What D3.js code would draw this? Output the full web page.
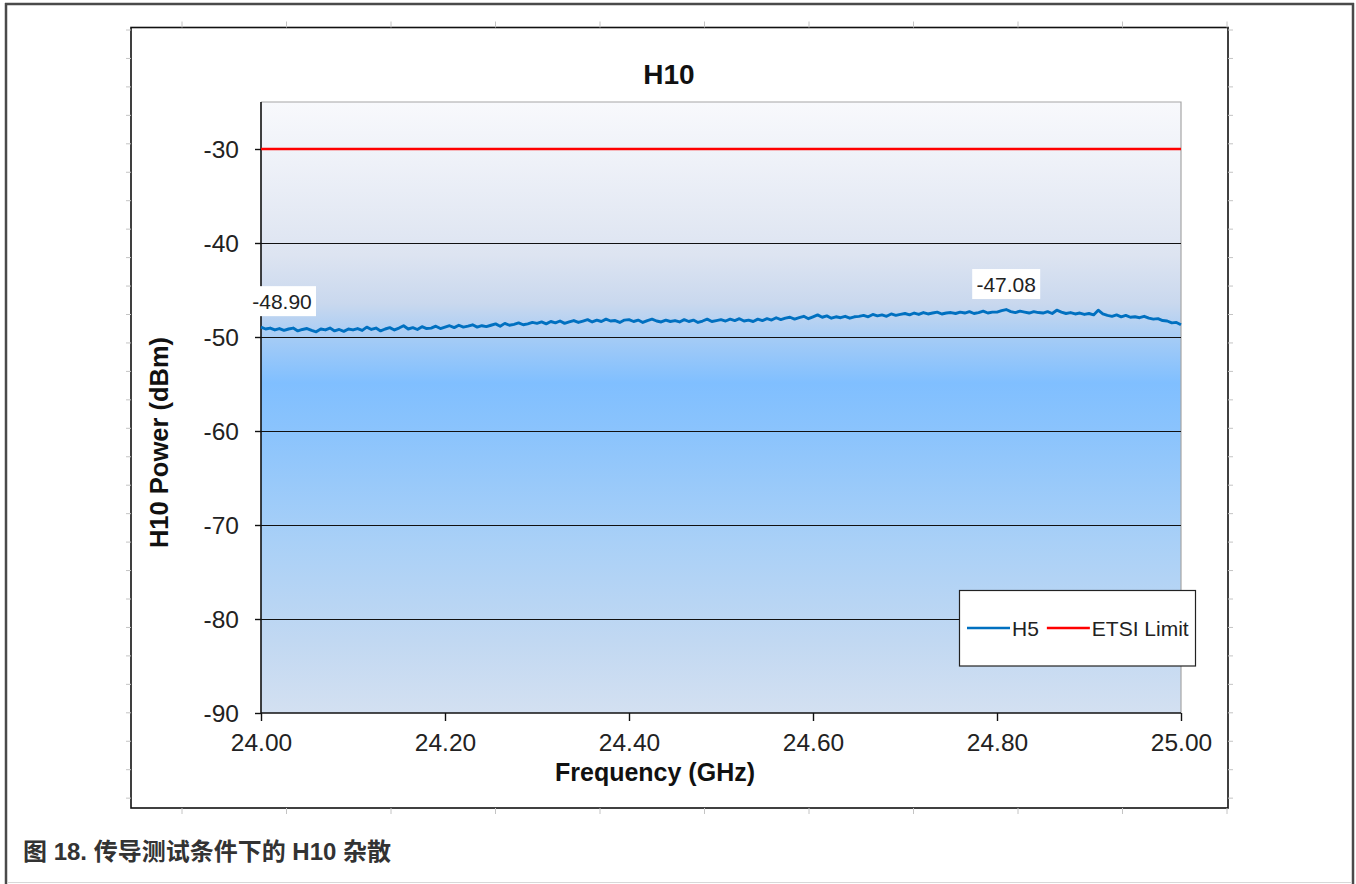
<!DOCTYPE html>
<html><head><meta charset="utf-8">
<script src="https://cdn.jsdelivr.net/npm/d3@7"></script>
<style>
html,body{margin:0;padding:0;background:#fff;}
svg{display:block;}
text{font-family:"Liberation Sans",Arial,sans-serif;}
</style></head>
<body>
<svg id="c" width="1356" height="884"></svg>
<script>
// ---- data ----
const chartTitle = "H10";
const xTitle = "Frequency (GHz)";
const yTitle = "H10 Power (dBm)";
const caption = "图 18. 传导测试条件下的 H10 杂散";
const freqStart = 24.00, freqStep = 0.005;
const h5Values = [
-48.95,-49.15,-49.05,-49.25,-49.10,-49.30,-49.15,-49.05,-49.35,-49.20,
-49.10,-49.30,-49.45,-49.15,-49.25,-49.05,-49.35,-49.20,-49.40,-49.15,
-49.25,-49.10,-49.30,-48.95,-49.20,-49.05,-49.35,-49.15,-49.00,-49.25,
-49.05,-48.80,-49.15,-49.00,-49.20,-48.90,-49.10,-49.05,-48.85,-49.10,
-48.95,-48.80,-49.00,-48.75,-48.95,-48.85,-48.70,-48.95,-48.80,-48.90,
-48.75,-48.60,-48.85,-48.55,-48.75,-48.65,-48.50,-48.70,-48.60,-48.45,
-48.55,-48.40,-48.60,-48.35,-48.50,-48.30,-48.55,-48.40,-48.25,-48.45,
-48.30,-48.15,-48.40,-48.20,-48.35,-48.10,-48.30,-48.25,-48.45,-48.20,
-48.15,-48.35,-48.20,-48.45,-48.25,-48.10,-48.30,-48.40,-48.20,-48.35,
-48.25,-48.40,-48.15,-48.35,-48.20,-48.45,-48.30,-48.10,-48.35,-48.25,
-48.15,-48.30,-48.10,-48.25,-48.05,-48.30,-48.20,-48.35,-48.10,-48.25,
-48.05,-48.20,-47.95,-48.15,-48.00,-47.90,-48.10,-47.95,-47.80,-48.05,
-47.85,-47.65,-47.90,-47.75,-48.00,-47.85,-47.95,-47.80,-48.00,-47.85,
-47.80,-47.70,-47.85,-47.60,-47.75,-47.65,-47.80,-47.55,-47.70,-47.60,
-47.50,-47.65,-47.45,-47.60,-47.40,-47.55,-47.45,-47.35,-47.55,-47.45,
-47.40,-47.50,-47.35,-47.45,-47.30,-47.50,-47.40,-47.25,-47.45,-47.35,
-47.35,-47.20,-47.08,-47.30,-47.40,-47.25,-47.35,-47.45,-47.30,-47.40,
-47.45,-47.30,-47.50,-47.15,-47.35,-47.50,-47.40,-47.55,-47.45,-47.60,
-47.50,-47.65,-47.15,-47.55,-47.70,-47.80,-47.65,-47.85,-47.70,-47.90,
-47.85,-47.95,-47.80,-48.00,-48.10,-48.05,-48.25,-48.30,-48.50,-48.45,
-48.70
];
const etsiLimit = -30;
const yTicks = [-90,-80,-70,-60,-50,-40,-30];
const xTicks = [24.0,24.2,24.4,24.6,24.8,25.0];
const dataLabels = [{f:24.00, v:-48.90, text:"-48.90"},{f:24.81, v:-47.08, text:"-47.08"}];
const legendItems = [{name:"H5", color:"#0070c0"},{name:"ETSI Limit", color:"#ff0000"}];

// ---- layout ----
const svg = d3.select("#c");
const P = {l:261, r:1181, t:102, b:713};
const x = d3.scaleLinear().domain([24.0,25.0]).range([P.l,P.r]);
const y = d3.scaleLinear().domain([-90,-25]).range([P.b,P.t]);

// outer frame
svg.append("line").attr("x1",6).attr("x2",6).attr("y1",3).attr("y2",884).attr("stroke","#4a4a4a").attr("stroke-width",2.5);
svg.append("line").attr("x1",1353).attr("x2",1353).attr("y1",3).attr("y2",884).attr("stroke","#4a4a4a").attr("stroke-width",2.5);
svg.append("line").attr("x1",5).attr("x2",1354).attr("y1",4).attr("y2",4).attr("stroke","#4a4a4a").attr("stroke-width",2.5);
svg.append("line").attr("x1",7).attr("x2",1352).attr("y1",882.5).attr("y2",882.5).attr("stroke","#d8d8d8").attr("stroke-width",1);

// chart box
const B = {l:131, r:1228, t:27.5, b:808};
svg.append("rect").attr("x",B.l).attr("y",B.t).attr("width",B.r-B.l).attr("height",B.b-B.t)
  .attr("fill","#fff").attr("stroke","#111").attr("stroke-width",1.6);
// decorative ruler ticks
const tg = svg.append("g").attr("stroke","#c4c4c4").attr("stroke-width",1);
d3.range(28).forEach(k=>{
  const yy = 30 + k*28.45;
  tg.append("line").attr("x1",B.l-5).attr("x2",B.l).attr("y1",yy).attr("y2",yy);
  tg.append("line").attr("x1",B.r).attr("x2",B.r+5).attr("y1",yy).attr("y2",yy);
});
d3.range(11).forEach(k=>{
  const xx = 182 + k*104.5;
  tg.append("line").attr("x1",xx).attr("x2",xx).attr("y1",B.t-6).attr("y2",B.t);
  tg.append("line").attr("x1",xx).attr("x2",xx).attr("y1",B.b).attr("y2",B.b+6);
});

// gradient plot area
const defs = svg.append("defs");
const grad = defs.append("linearGradient").attr("id","bg").attr("x1",0).attr("x2",0).attr("y1",0).attr("y2",1);
[[0,"#f8f9fc"],[0.1,"#eef1f8"],[0.25,"#dde4f1"],[0.33,"#c9d8ee"],[0.39,"#a3cbf6"],[0.46,"#80bfff"],[0.55,"#8cc4fc"],[0.72,"#a9d0f7"],[0.88,"#c1d8f2"],[1,"#d3e0f1"]]
  .forEach(s=>grad.append("stop").attr("offset",s[0]).attr("stop-color",s[1]));
svg.append("rect").attr("x",P.l).attr("y",P.t).attr("width",P.r-P.l).attr("height",P.b-P.t).attr("fill","url(#bg)");
svg.append("path").attr("d",`M${P.l},${P.t}H${P.r}V${P.b}`).attr("fill","none").attr("stroke","#a6a6a6").attr("stroke-width",1.2);

// gridlines
svg.append("g").selectAll("line").data(yTicks.filter(v=>v>-90 && v!==etsiLimit)).join("line")
  .attr("x1",P.l).attr("x2",P.r).attr("y1",d=>Math.round(y(d))+0.5).attr("y2",d=>Math.round(y(d))+0.5)
  .attr("stroke","#111").attr("stroke-width",1.2);

// axes
const yAxis = d3.axisLeft(y).tickValues(yTicks).tickSize(6).tickPadding(16).tickFormat(d=>String(d));
const gy = svg.append("g").attr("transform",`translate(${P.l},0)`).call(yAxis);
const xAxis = d3.axisBottom(x).tickValues(xTicks).tickSize(8).tickPadding(13).tickFormat(d=>d.toFixed(2));
const gx = svg.append("g").attr("transform",`translate(0,${P.b})`).call(xAxis);
[gx,gy].forEach(g=>{
  g.select(".domain").attr("stroke","#111").attr("stroke-width",1.6);
  g.selectAll(".tick line").attr("stroke","#111").attr("stroke-width",1.4);
  g.selectAll(".tick text").attr("font-size",24.5).attr("fill","#222").attr("font-family","Liberation Sans, Arial, sans-serif");
});
gy.select(".domain").attr("d",`M0,${P.t}V${P.b}`);
gx.select(".domain").attr("d",`M${P.l},0H${P.r}`);
gy.selectAll(".tick text").attr("dy","0.36em");

// ETSI limit line
svg.append("line").attr("x1",P.l).attr("x2",P.r).attr("y1",y(etsiLimit)).attr("y2",y(etsiLimit))
  .attr("stroke","#ff0000").attr("stroke-width",2.5);

// H5 line
const pts = h5Values.map((v,i)=>({f:freqStart+i*freqStep, v}));
svg.append("path").datum(pts)
  .attr("d",d3.line().x(d=>x(d.f)).y(d=>y(d.v)))
  .attr("fill","none").attr("stroke","#0070c0").attr("stroke-width",2.9).attr("stroke-linejoin","round");

// data labels
dataLabels.forEach(d=>{
  const w = 68, h = 30;
  const cx = Math.max(x(d.f), P.l - 13 + w/2);
  const cy = y(d.v) - 25.5;
  svg.append("rect").attr("x",cx-w/2).attr("y",cy-h/2).attr("width",w).attr("height",h).attr("fill","#fff");
  svg.append("text").attr("x",cx).attr("y",cy).attr("dy","0.36em").attr("text-anchor","middle")
    .attr("font-size",21).attr("fill","#222").text(d.text);
});

// titles
svg.append("text").attr("x",669).attr("y",84).attr("text-anchor","middle").attr("font-size",28)
  .attr("font-weight","bold").attr("fill","#111").text(chartTitle);
svg.append("text").attr("x",655).attr("y",781).attr("text-anchor","middle").attr("font-size",25)
  .attr("font-weight","bold").attr("fill","#111").text(xTitle);
svg.append("text").attr("transform","translate(168,442.5) rotate(-90)").attr("text-anchor","middle").attr("font-size",25.5)
  .attr("font-weight","bold").attr("fill","#111").text(yTitle);

// legend
const L = {x:959.5, y:590.5, w:236, h:75.5};
svg.append("rect").attr("x",L.x).attr("y",L.y).attr("width",L.w).attr("height",L.h).attr("fill","#fff").attr("stroke","#222").attr("stroke-width",1.2);
let lx = 967;
const ly = 628;
legendItems.forEach(it=>{
  svg.append("line").attr("x1",lx).attr("x2",lx+43).attr("y1",ly).attr("y2",ly).attr("stroke",it.color).attr("stroke-width",2.6);
  const t = svg.append("text").attr("x",lx+45).attr("y",ly).attr("dy","0.36em").attr("font-size",21).attr("fill","#222").text(it.name);
  lx = lx + 45 + t.node().getComputedTextLength() + 8;
});

// caption
svg.append("text").attr("x",23).attr("y",860).attr("font-size",24).attr("font-weight","bold").attr("fill","#333")
  .style("font-family","'Liberation Sans','Noto Sans CJK SC',sans-serif").text(caption);
</script>
</body></html>
